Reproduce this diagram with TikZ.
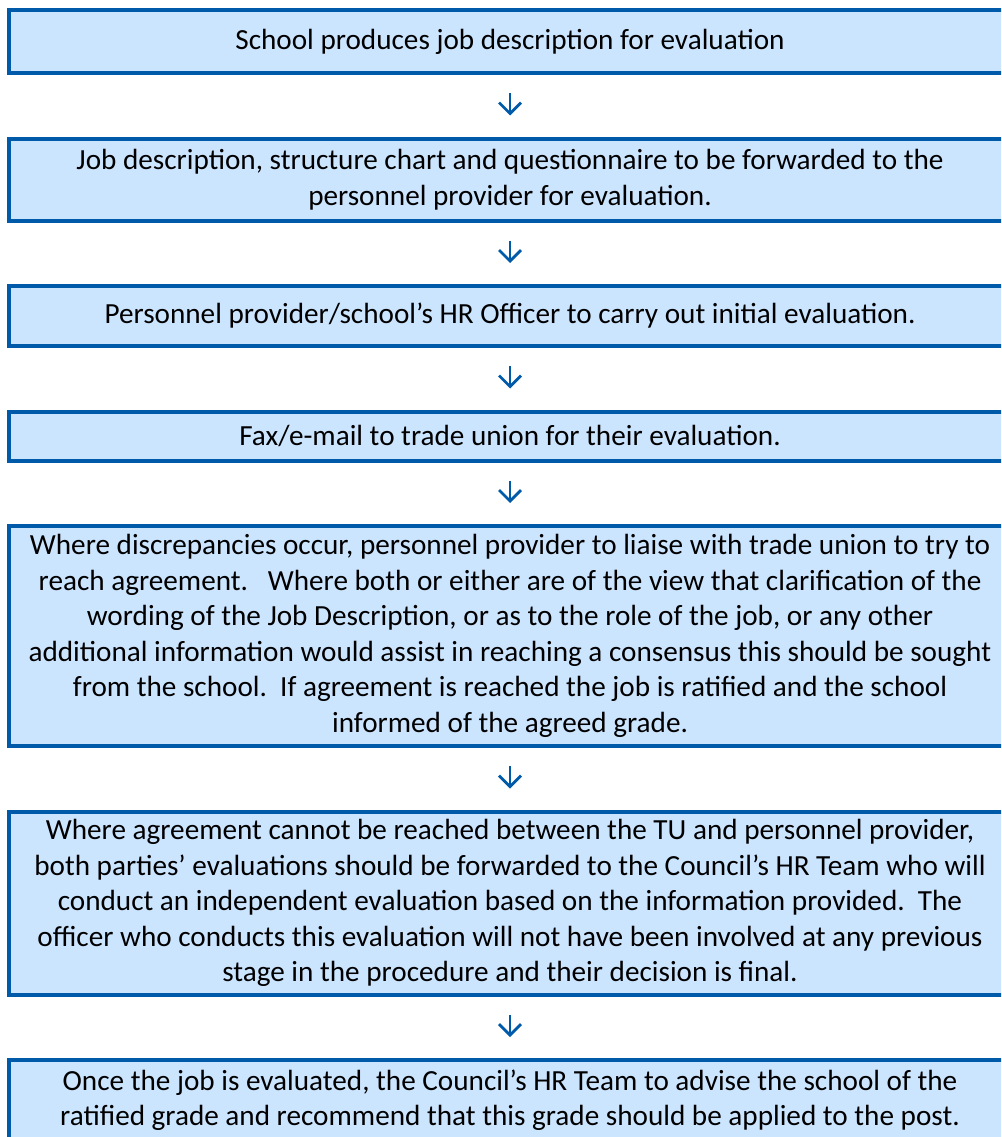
\documentclass[tikz,border=0pt]{standalone}
\usepackage{fontspec}
\setmainfont{Carlito}
\usetikzlibrary{positioning,arrows.meta}
\definecolor{boxblue}{RGB}{0,90,170}
\definecolor{boxfill}{RGB}{204,229,255}
\begin{document}
\begin{tikzpicture}[x=1pt,y=1pt,
        node distance=61.5pt,
        stepbox/.style={draw=boxblue, fill=boxfill, line width=4pt, minimum width=1002pt,
            align=center, inner ysep=0pt, font=\fontsize{29.2}{35.5}\selectfont},
        >={Straight Barb[length=11pt,width=22pt]},
        flowarrow/.style={->, boxblue, line width=2.8pt, shorten <=18pt, shorten >=21pt}]
    \clip (0,0) rectangle (1001,-1137);
    \node[stepbox, minimum height=63pt] (produce) at (510,-41.5) {School produces job description for evaluation};
    \node[stepbox, minimum height=82pt, below=of produce] (forward) {Job description, structure chart and questionnaire to be forwarded to the\\personnel provider for evaluation.};
    \node[stepbox, minimum height=60pt, below=of forward] (initial) {Personnel provider/school’s HR Officer to carry out initial evaluation.};
    \node[stepbox, minimum height=49pt, below=of initial] (union) {Fax/e-mail to trade union for their evaluation.};
    \node[stepbox, minimum height=220pt, below=of union] (liaise) {Where discrepancies occur, personnel provider to liaise with trade union to try to\\reach agreement.\ \ \ Where both or either are of the view that clarification of the\\wording of the Job Description, or as to the role of the job, or any other\\additional information would assist in reaching a consensus this should be sought\\from the school.\ \ If agreement is reached the job is ratified and the school\\informed of the agreed grade.};
    \node[stepbox, minimum height=183pt, below=of liaise] (council) {Where agreement cannot be reached between the TU and personnel provider,\\both parties’ evaluations should be forwarded to the Council’s HR Team who will\\conduct an independent evaluation based on the information provided.\ \ The\\officer who conducts this evaluation will not have been involved at any previous\\stage in the procedure and their decision is final.};
    \node[stepbox, minimum height=80pt, below=of council] (advise) {Once the job is evaluated, the Council’s HR Team to advise the school of the\\ratified grade and recommend that this grade should be applied to the post.};
    % arrows between the steps
    \draw[flowarrow] (produce.south) -- (forward.north);
    \draw[flowarrow] (forward.south) -- (initial.north);
    \draw[flowarrow] (initial.south) -- (union.north);
    \draw[flowarrow] (union.south) -- (liaise.north);
    \draw[flowarrow] (liaise.south) -- (council.north);
    \draw[flowarrow] (council.south) -- (advise.north);
\end{tikzpicture}
\end{document}
